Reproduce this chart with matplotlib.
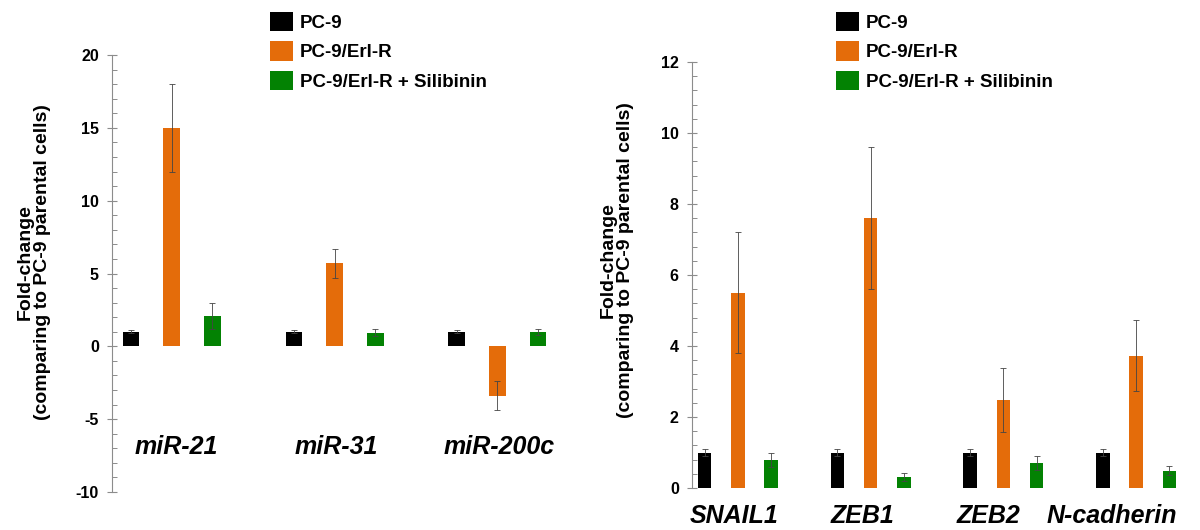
import matplotlib
matplotlib.use('Agg')
import matplotlib.pyplot as plt
from matplotlib.ticker import MultipleLocator
import numpy as np

# Подписи и значения
series_names = ['PC-9', 'PC-9/Erl-R', 'PC-9/Erl-R + Silibinin']
series_colors = ['#000000', '#E46C0A', '#038203']

mir_labels = ['miR-21', 'miR-31', 'miR-200c']
mir_pc9 = [1.0, 1.0, 1.0]
mir_pc9_err = [0.1, 0.1, 0.1]
mir_erl = [15.0, 5.7, -3.4]
mir_erl_err = [3.0, 1.0, 1.0]
mir_sil = [2.07, 0.93, 1.0]
mir_sil_err = [0.9, 0.25, 0.22]

gene_labels = ['SNAIL1', 'ZEB1', 'ZEB2', 'N-cadherin']
gene_pc9 = [1.0, 1.0, 1.0, 1.0]
gene_pc9_err = [0.1, 0.1, 0.1, 0.1]
gene_erl = [5.5, 7.6, 2.47, 3.72]
gene_erl_err = [1.7, 2.0, 0.9, 1.0]
gene_sil = [0.79, 0.32, 0.71, 0.49]
gene_sil_err = [0.2, 0.11, 0.2, 0.12]

y_label = 'Fold-change\n(comparing to PC-9 parental cells)'

plt.rcParams['font.family'] = ['Liberation Sans', 'DejaVu Sans']
plt.rcParams['axes.unicode_minus'] = False

W, H = 1200, 530


def px_axes(fig, left, top, right, bottom):
    """Оси по координатам в пикселях (от верхнего левого угла)."""
    return fig.add_axes([left / W, 1 - bottom / H, (right - left) / W, (bottom - top) / H])


def draw_panel(ax, labels, values, errors, ylim, major, minor,
               label_y, label_shift, legend_x):
    """Групповая столбчатая диаграмма с планками погрешностей."""
    group_x = np.arange(len(labels)) * 4
    handles = []
    for j, (vals, errs) in enumerate(zip(values, errors)):
        bars = ax.bar(group_x + j, vals, width=0.41, color=series_colors[j],
                      label=series_names[j], zorder=2,
                      yerr=errs,
                      error_kw=dict(ecolor='#444444', elinewidth=0.6,
                                    capsize=2.5, capthick=0.6, zorder=3))
        handles.append(bars)

    # Подписи категорий (жирный курсив) под группами
    for x, dx, lab in zip(group_x + 1, label_shift, labels):
        ax.text(x + dx, label_y, lab, ha='center', va='center', fontsize=18,
                fontweight='bold', fontstyle='italic', clip_on=False)

    ax.set_ylim(*ylim)
    ax.yaxis.set_major_locator(MultipleLocator(major))
    ax.yaxis.set_minor_locator(MultipleLocator(minor))
    ax.set_xticks([])
    for side in ['top', 'right', 'bottom']:
        ax.spines[side].set_visible(False)
    ax.spines['left'].set_color('#8c8c8c')
    ax.spines['left'].set_linewidth(0.8)
    ax.tick_params(axis='y', which='major', direction='inout', length=7,
                   width=0.8, color='#8c8c8c', labelsize=11.5, pad=6)
    ax.tick_params(axis='y', which='minor', direction='in', length=3.5,
                   width=0.7, color='#8c8c8c')
    for t in ax.get_yticklabels():
        t.set_fontweight('bold')

    ax.set_ylabel(y_label, fontsize=14, fontweight='bold', va='center',
                  multialignment='center', linespacing=1.05)

    # Легенда вверху, без рамки
    ax.legend(handles=handles, loc='upper left',
              bbox_to_anchor=(legend_x / W, 1 - 12 / H),
              bbox_transform=ax.figure.transFigure, frameon=False,
              prop=dict(weight='bold', size=13.5),
              handlelength=1.2, handleheight=1.2, handletextpad=0.4,
              labelspacing=0.5, borderpad=0, borderaxespad=0)


fig = plt.figure(figsize=(W / 100, H / 100), dpi=100)

ax1 = px_axes(fig, 112, 55, 599, 492)
draw_panel(ax1, mir_labels,
           [mir_pc9, mir_erl, mir_sil],
           [mir_pc9_err, mir_erl_err, mir_sil_err],
           (-10, 20), 5, 1, -6.9, [0.1, 0.05, 0.05], 270)
ax1.set_xlim(-0.47, 11.5)
ax1.yaxis.set_label_coords(-0.16, 0.526)

ax2 = px_axes(fig, 692, 62, 1196, 488)
draw_panel(ax2, gene_labels,
           [gene_pc9, gene_erl, gene_sil],
           [gene_pc9_err, gene_erl_err, gene_sil_err],
           (0, 12), 2, 0.4, -0.8, [-0.12, -0.26, -0.45, -0.75], 836)
ax2.set_xlim(-0.38, 14.8)
ax2.yaxis.set_label_coords(-0.149, 0.535)

fig.savefig('out.png', dpi=100)
